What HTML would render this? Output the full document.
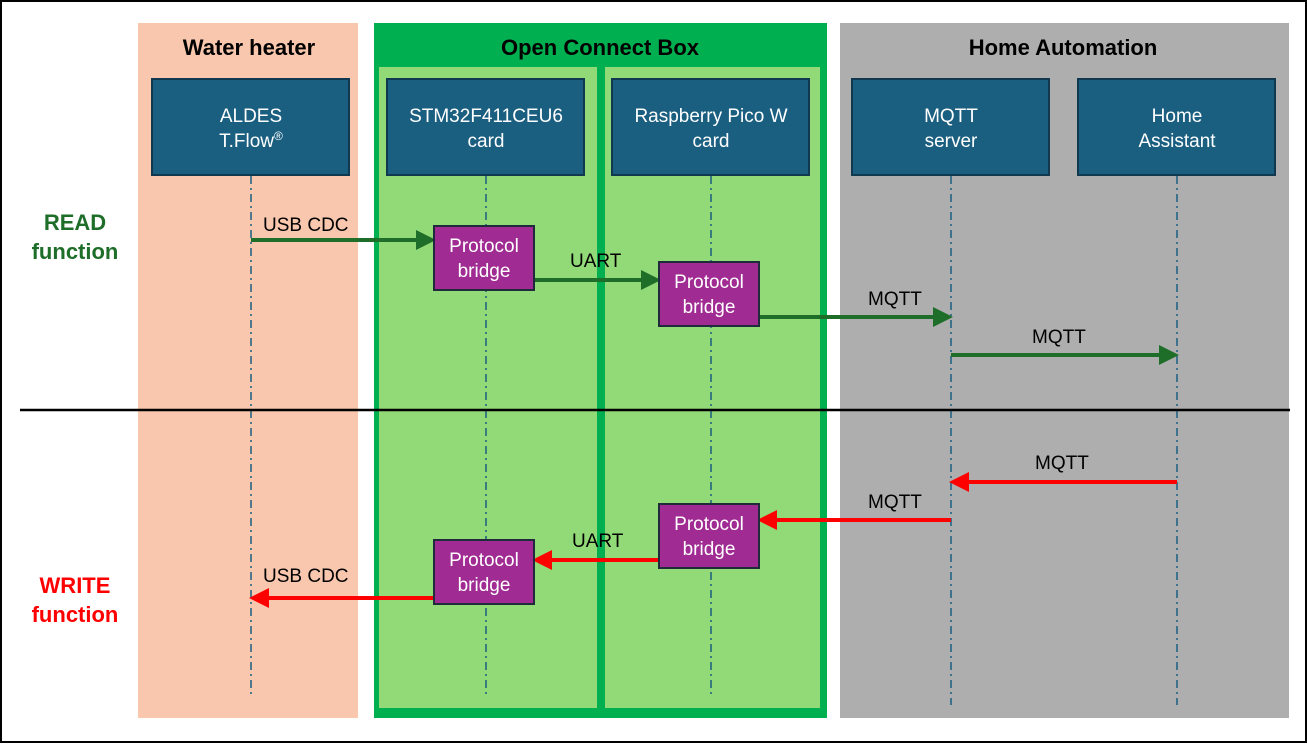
<!DOCTYPE html><html><head><style>body{margin:0;background:#fff}</style></head><body>
<svg width="1307" height="743" xmlns="http://www.w3.org/2000/svg" font-family="Liberation Sans, sans-serif">
<defs>
<marker id="g" markerWidth="5" markerHeight="5" refX="4" refY="2.5" orient="auto" markerUnits="strokeWidth"><path d="M0,0L5,2.5L0,5z" fill="#1e6e2a"/></marker>
<marker id="r" markerWidth="5" markerHeight="5" refX="4" refY="2.5" orient="auto" markerUnits="strokeWidth"><path d="M0,0L5,2.5L0,5z" fill="#ff0000"/></marker>
</defs>
<rect x="1" y="1" width="1305" height="741" fill="#fff" stroke="#000" stroke-width="2"/>
<rect x="138" y="23" width="220" height="695" fill="#f8c7ad"/>
<rect x="374" y="23" width="453" height="695" fill="#00b050"/>
<rect x="379" y="67" width="218" height="641" fill="#92d977"/>
<rect x="605" y="67" width="215" height="641" fill="#92d977"/>
<rect x="840" y="23" width="449" height="695" fill="#aeaeae"/>
<g font-weight="bold" font-size="22" text-anchor="middle" fill="#000">
<text x="249" y="55">Water heater</text><text x="600" y="55">Open Connect Box</text><text x="1063" y="55">Home Automation</text></g>
<g fill="#1a5e80" stroke="#10384e" stroke-width="2">
<rect x="152" y="79" width="197" height="96"/><rect x="387" y="79" width="197" height="96"/><rect x="612" y="79" width="197" height="96"/><rect x="852" y="79" width="197" height="96"/><rect x="1078" y="79" width="197" height="96"/></g>
<g fill="#fff" font-size="19" text-anchor="middle">
<text x="251" y="122">ALDES</text><text x="251" y="147">T.Flow<tspan font-size="12" dy="-7">®</tspan></text>
<text x="486" y="122">STM32F411CEU6</text><text x="486" y="147">card</text>
<text x="711" y="122">Raspberry Pico W</text><text x="711" y="147">card</text>
<text x="951" y="122">MQTT</text><text x="951" y="147">server</text>
<text x="1177" y="122">Home</text><text x="1177" y="147">Assistant</text></g>
<g stroke="#1a5e80" stroke-width="1.5" stroke-dasharray="8,4,2,4">
<line x1="251" y1="176" x2="251" y2="695"/><line x1="486" y1="176" x2="486" y2="695"/><line x1="711" y1="176" x2="711" y2="695"/><line x1="951" y1="176" x2="951" y2="705"/><line x1="1177" y1="176" x2="1177" y2="705"/></g>
<line x1="20" y1="410" x2="1290" y2="410" stroke="#000" stroke-width="2.5"/>
<g stroke="#1e6e2a" stroke-width="4">
<line x1="251" y1="240" x2="432" y2="240" marker-end="url(#g)"/>
<line x1="534" y1="280" x2="657" y2="280" marker-end="url(#g)"/>
<line x1="759" y1="317" x2="949" y2="317" marker-end="url(#g)"/>
<line x1="951" y1="355" x2="1175" y2="355" marker-end="url(#g)"/></g>
<g stroke="#ff0000" stroke-width="4">
<line x1="1177" y1="482" x2="953" y2="482" marker-end="url(#r)"/>
<line x1="951" y1="520" x2="761" y2="520" marker-end="url(#r)"/>
<line x1="659" y1="560" x2="536" y2="560" marker-end="url(#r)"/>
<line x1="434" y1="598" x2="253" y2="598" marker-end="url(#r)"/></g>
<g fill="#a02b93" stroke="#1f2a3a" stroke-width="2">
<rect x="434" y="226" width="100" height="64"/><rect x="659" y="262" width="100" height="64"/><rect x="659" y="504" width="100" height="64"/><rect x="434" y="540" width="100" height="64"/></g>
<g fill="#fff" font-size="19" text-anchor="middle">
<text x="484" y="252">Protocol</text><text x="484" y="277">bridge</text>
<text x="709" y="288">Protocol</text><text x="709" y="313">bridge</text>
<text x="709" y="530">Protocol</text><text x="709" y="555">bridge</text>
<text x="484" y="566">Protocol</text><text x="484" y="591">bridge</text></g>
<g fill="#000" font-size="19">
<text x="263" y="231">USB CDC</text><text x="570" y="267">UART</text><text x="868" y="305">MQTT</text><text x="1032" y="343">MQTT</text>
<text x="1035" y="469">MQTT</text><text x="868" y="508">MQTT</text><text x="572" y="547">UART</text><text x="263" y="582">USB CDC</text></g>
<g font-weight="bold" font-size="22" text-anchor="middle">
<text x="75" y="230" fill="#1e6e2a">READ</text><text x="75" y="259" fill="#1e6e2a">function</text>
<text x="75" y="593" fill="#ff0000">WRITE</text><text x="75" y="622" fill="#ff0000">function</text></g>
</svg></body></html>
